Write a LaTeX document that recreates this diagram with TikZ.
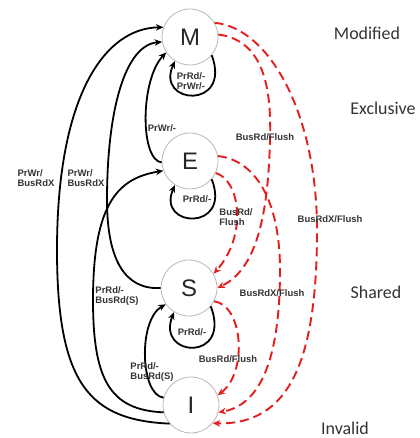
\documentclass[tikz,border=0pt]{standalone}
\usepackage{fontspec}
\setmainfont{Liberation Sans}
\newfontfamily\statefont{Carlito}
\usetikzlibrary{arrows.meta}
\definecolor{snoopred}{RGB}{228,30,30}
\begin{document}
\begin{tikzpicture}[x=1bp,y=-1bp,
  state/.style={circle,draw=black!28,line width=0.8bp,fill=white,minimum size=56bp,inner sep=0pt,
    font=\fontsize{24}{24}\selectfont,text=black!85},
  bus/.style={line width=1.8bp,-{Stealth[length=7.5bp,width=6.5bp]}},
  snoop/.style={snoopred,line width=1.9bp,dash pattern=on 9bp off 5bp,-{Stealth[length=7.5bp,width=6.5bp]}},
  lbl/.style={font=\fontsize{9.5}{10.5}\selectfont\bfseries,text=black!80,inner sep=0pt,align=left},
  side/.style={font=\statefont\fontsize{18}{18}\selectfont,text=black!80,inner sep=0pt}]
\useasboundingbox (0,0) rectangle (419,438);

% MESI states
\node[state] (M) at (190,37) {M};
\node[state] (E) at (190,161) {E};
\node[state] (S) at (189,288) {S};
\node[state] (I) at (191,405) {I};

% processor-initiated transitions
\draw[bus] (I.221) .. controls (90,420) and (57,385) .. (57,250) .. controls (57,95) and (105,28) .. (M.160);
\draw[bus] (S.180) .. controls (125,290) and (107,260) .. (107,200) .. controls (107,110) and (125,45) .. (M.190);
\draw[bus] (E.183) .. controls (140,160) and (140,80) .. (M.213);
\draw[bus] (I.195) .. controls (110,410) and (93,380) .. (93,300) .. controls (93,200) and (120,178) .. (E.200);
\draw[bus] (I.165) .. controls (140,395) and (138,320) .. (S.215);
\draw[bus] (M.-40) .. controls (232,110) and (155,105) .. (M.-122);
\draw[bus] (E.-40) .. controls (232,232) and (156,228) .. (E.-122);
\draw[bus] (S.-40) .. controls (232,362) and (156,358) .. (S.-122);

% snooped bus transitions
\draw[snoop] (M.30) .. controls (270,28) and (317,115) .. (317,230) .. controls (317,360) and (290,425) .. (I.-40);
\draw[snoop] (M.5) .. controls (260,40) and (272,80) .. (270,140) .. controls (268,220) and (255,270) .. (S.0);
\draw[snoop] (E.10) .. controls (255,160) and (280,200) .. (280,270) .. controls (280,360) and (260,405) .. (I.-15);
\draw[snoop] (E.-25) .. controls (240,180) and (248,235) .. (S.30);
\draw[snoop] (S.-28) .. controls (243,305) and (248,372) .. (I.20);

% transition labels
\node[lbl] (tIM) at (36,178) {PrWr/\\BusRdX};
\node[lbl] (tSM) at (86,178) {PrWr/\\BusRdX};
\node[lbl] (tEM) at (162,128) {PrWr/-};
\node[lbl] (tMM) at (191,81) {PrRd/-\\PrWr/-};
\node[lbl] (tEE) at (197,199) {PrRd/-};
\node[lbl] (tIE) at (117,296) {PrRd/-\\BusRd(S)};
\node[lbl] (tIS) at (152,372) {PrRd/-\\BusRd(S)};
\node[lbl] (tSS) at (192,332) {PrRd/-};
\node[lbl] (tMS) at (265,137) {BusRd/Flush};
\node[lbl] (tES) at (236,217) {BusRd/\\Flush};
\node[lbl] (tMI) at (330,219) {BusRdX/Flush};
\node[lbl] (tEI) at (272,293) {BusRdX/Flush};
\node[lbl] (tSI) at (228,359) {BusRd/Flush};

% state names
\node[side] (nM) at (367,33) {Modified};
\node[side] (nE) at (383,108) {Exclusive};
\node[side] (nS) at (376,292) {Shared};
\node[side] (nI) at (345,428) {Invalid};
\end{tikzpicture}
\end{document}
